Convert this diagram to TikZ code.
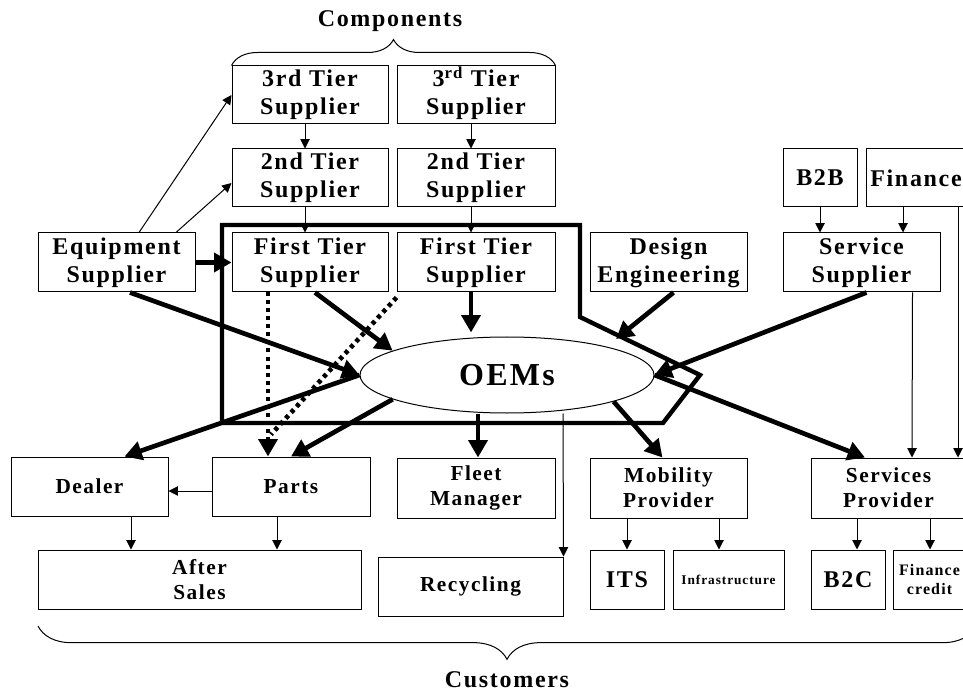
\documentclass[tikz,border=0pt]{standalone}
\usepackage{fontspec}
\setmainfont{Liberation Serif}[LetterSpace=7]
\usetikzlibrary{arrows.meta,calc,shapes.geometric,decorations.pathreplacing}

\begin{document}
\begin{tikzpicture}[x=0.75pt,y=-0.75pt,
    box/.style 2 args={draw,line width=0.75pt,inner sep=0pt,align=center,
      minimum width=#1*0.75pt,minimum height=#2*0.75pt,
      font=\bfseries\fontsize{18}{21}\selectfont},
    low/.style={font=\bfseries\fontsize{16}{19}\selectfont},
    feed/.style={line width=0.75pt,-{Triangle[length=7pt,width=7pt]}},
    heavy/.style={line width=3.5pt,-{Triangle[length=13pt,width=14pt]}},
    dotline/.style={line width=3.5pt,dash pattern=on 3pt off 3pt},
    bracket/.style={line width=0.75pt,decorate,decoration={brace,amplitude=#1}}]
    \useasboundingbox (0,0) rectangle (963,691);

    \node[font=\bfseries\fontsize{18}{21}\selectfont] (comp) at (390,21) {Components};
    \node[box={156}{58}] (t3a) at (310,95) {3rd Tier\\Supplier};
    \node[box={158}{58}] (t3b) at (476,95) {3\smash{\textsuperscript{rd}} Tier\\Supplier};
    \node[box={156}{58}] (t2a) at (310,178) {2nd Tier\\Supplier};
    \node[box={158}{58}] (t2b) at (476,178) {2nd Tier\\Supplier};
    \node[box={156}{59}] (t1a) at (310,262.5) {First Tier\\Supplier};
    \node[box={158}{59}] (t1b) at (476,262.5) {First Tier\\Supplier};
    \node[box={157}{59}] (equip) at (116.5,262.5) {Equipment\\Supplier};
    \node[box={157}{59}] (design) at (668.5,262.5) {Design\\Engineering};
    \node[box={74}{58}] (btb) at (820,178) {B2B};
    \node[box={100}{58}] (fin) at (916,178) {Finance};
    \node[box={157}{59}] (ssup) at (861.5,262.5) {Service\\Supplier};
    \node[draw,ellipse,line width=0.75pt,inner sep=0pt,minimum width=294*0.75pt,
      minimum height=76*0.75pt,font=\bfseries\fontsize{24}{28}\selectfont] (oem) at (507,375) {OEMs};

    \node[box={157}{59},low] (dealer) at (89.5,486.5) {Dealer};
    \node[box={158}{59},low] (parts) at (291,486.5) {Parts};
    \node[box={158}{60},low] (fleet) at (476,488) {Fleet\\Manager};
    \node[box={157}{60},low] (mob) at (668.5,488) {Mobility\\Provider};
    \node[box={155}{60},low] (sprov) at (888.5,488) {Services\\Provider};
    \node[box={323}{59},low] (after) at (199.5,579.5) {After\\Sales};
    \node[box={185}{59},low] (recyc) at (470.5,586.5) {Recycling};
    \node[box={74}{59}] (its) at (627,579.5) {ITS};
    \node[box={111}{59},font=\bfseries\fontsize{10}{12}\selectfont] (infra) at (728.5,579.5) {Infrastructure};
    \node[box={74}{59}] (btc) at (848,579.5) {B2C};
    \node[box={73}{59},font=\bfseries\fontsize{12}{14}\selectfont] (fincr) at (929.5,579.5) {Finance\\credit};
    \node[font=\bfseries\fontsize{18}{21}\selectfont] (cust) at (507,680) {Customers};

    \draw[line width=3.3pt] (222,225) -- (580,225) -- (580,317) -- (700,375) -- (663,423) -- (222,423) -- cycle;
    \draw[bracket=19.5pt] (t3a.north west) -- (t3b.north east);
    \draw[bracket=25pt] (976,626) -- (38,626);

    \draw[feed] ($(t3a.south)+(-5,0)$) -- ($(t2a.north)+(-5,0)$);
    \draw[feed] ($(t3b.south)+(-5,0)$) -- ($(t2b.north)+(-5,0)$);
    \draw[feed] ($(t2a.south)+(-5,0)$) -- ($(t1a.north)+(-5,0)$);
    \draw[feed] ($(t2b.south)+(-5,0)$) -- ($(t1b.north)+(-5,0)$);
    \draw[feed] ($(equip.north)+(22.5,0)$) -- (t3a.west);
    \draw[feed] ($(equip.north)+(59.5,0)$) -- ($(t2a.west)+(0,5)$);
    \draw[heavy] (equip) -- (t1a);
    \draw[heavy] ($(equip.south)+(13.5,0)$) -- (oem.west);
    \draw[heavy] ($(t1a.south)+(5,0)$) -- (oem.168);
    \draw[heavy] ($(t1b.south)+(-5,0)$) -- ($(oem.north)+(-36,-4)$);
    \draw[dotline,-{Triangle[length=13pt,width=14pt]}] ($(t1a.south)+(-42,0)$) -- ($(parts.north)+(-23,0)$);
    \draw[dotline] ($(t1b.south west)+(0,5)$) -- ($(parts.north)+(-20,-22)$);
    \draw[heavy] ($(design.south)+(5,0)$) -- ($(oem.center)+(109,-36)$);
    \draw[heavy] ($(ssup.south)+(5,0)$) -- (oem.east);
    \draw[feed] (btb) -- (btb |- ssup.north);
    \draw[feed] ($(fin.south)+(-13,0)$) coordinate (f1) -- (f1 |- ssup.north);
    \draw[feed] ($(ssup.south east)+(-28,0)$) -- ($(sprov.north)+(23.5,0)$);
    \draw[feed] ($(fin.south)+(42,0)$) -- ($(sprov.north)+(69.5,0)$);

    \draw[heavy] (oem.west) -- ($(dealer.north)+(35,0)$);
    \draw[heavy] (oem.192) -- (parts.north);
    \draw[heavy] ($(oem.south)+(-29,0)$) -- ($(fleet.north)+(2,0)$);
    \draw[feed] ($(oem.south)+(56,0)$) -- (recyc.north east);
    \draw[heavy] (oem.-14) -- ($(mob.north)+(-6,0)$);
    \draw[heavy] (oem.east) -- ($(sprov.north)+(-23.5,0)$);

    \draw[feed] ($(parts.west)+(0,4.5)$) -- ($(dealer.east)+(0,4.5)$);
    \draw[feed] ($(dealer.south)+(41.5,0)$) coordinate (d1) -- (d1 |- after.north);
    \draw[feed] ($(parts.south)+(-14,0)$) coordinate (p1) -- (p1 |- after.north);
    \draw[feed] (its |- mob.south) -- (its);
    \draw[feed] ($(mob.south)+(50.5,0)$) coordinate (m1) -- (m1 |- infra.north);
    \draw[feed] ($(sprov.south)+(-31.5,0)$) coordinate (s1) -- (s1 |- btc.north);
    \draw[feed] ($(sprov.south)+(41.5,0)$) coordinate (s2) -- (s2 |- fincr.north);
\end{tikzpicture}
\end{document}
